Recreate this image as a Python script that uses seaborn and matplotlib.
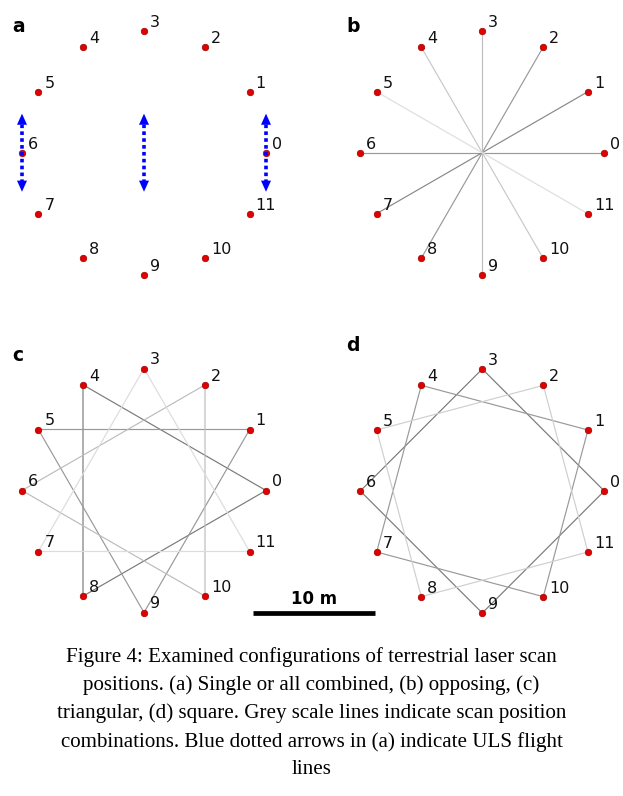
import numpy as np
import pandas as pd
import matplotlib
matplotlib.use("Agg")
import matplotlib.pyplot as plt
import seaborn as sns

# scan positions on the ring (index, angle in degrees, ccw from east)
scan_ids = [0, 1, 2, 3, 4, 5, 6, 7, 8, 9, 10, 11]
scan_angle_deg = [0, 30, 60, 90, 120, 150, 180, 210, 240, 270, 300, 330]
ring_radius_m = 10.0

# (b) opposing combinations
opposing_pairs = [(0, 6), (1, 7), (2, 8), (3, 9), (4, 10), (5, 11)]
opposing_grey = ["#9a9a9a", "#888888", "#999999", "#bdbdbd", "#c8c8c8", "#dedede"]

# (c) triangular combinations
triangles = [(0, 4, 8), (1, 5, 9), (2, 6, 10), (3, 7, 11)]
triangle_grey = ["#7a7a7a", "#999999", "#bcbcbc", "#dcdcdc"]

# (d) square combinations
squares = [(0, 3, 6, 9), (1, 4, 7, 10), (2, 5, 8, 11)]
square_grey = ["#7a7a7a", "#999999", "#cfcfcf"]

# (a) ULS flight lines
flight_line_x_m = [-10, 0, 10]
flight_line_half_len_m = 3.2

scale_bar_m = 10

caption_lines = [
    "Figure 4: Examined configurations of terrestrial laser scan",
    "positions. (a) Single or all combined, (b) opposing, (c)",
    "triangular, (d) square. Grey scale lines indicate scan position",
    "combinations. Blue dotted arrows in (a) indicate ULS flight",
    "lines",
]

sns.set_style("white")
plt.rcParams["font.family"] = ["DejaVu Sans"]
plt.rcParams["text.color"] = "black"

W, H = 623, 796
px_per_m = 12.2
half_px = 150
fig = plt.figure(figsize=(W / 100, H / 100), dpi=100)

# panel centres in pixels
centres = {"a": (144, 152.7), "b": (482.2, 152.7), "c": (144, 490.5), "d": (482.3, 491)}
letter_pos = {"a": (19, 27), "b": (353, 27), "c": (18, 355), "d": (352.7, 345)}

ang = np.deg2rad(scan_angle_deg)
pts = pd.DataFrame({"id": scan_ids,
                    "x": ring_radius_m * np.cos(ang),
                    "y": ring_radius_m * np.sin(ang)})

lim = half_px / px_per_m
axes = {}
for key, (cx, cy) in centres.items():
    ax = fig.add_axes([(cx - half_px) / W, (H - cy - half_px) / H, 2 * half_px / W, 2 * half_px / H])
    ax.set_xlim(-lim, lim)
    ax.set_ylim(-lim, lim)
    ax.set_axis_off()
    axes[key] = ax
    lx, ly = letter_pos[key]
    fig.text(lx / W, 1 - ly / H, key, ha="center", va="center", fontsize=13.5,
             fontweight="bold", color="black")


def connect(ax, idx, color, closed=False):
    seq = list(idx) + ([idx[0]] if closed else [])
    ax.plot(pts.x.iloc[seq], pts.y.iloc[seq], color=color, lw=0.85, zorder=1, solid_capstyle="butt")


# (a) flight line arrows
ax = axes["a"]
for fx in flight_line_x_m:
    h = flight_line_half_len_m
    ax.plot([fx, fx], [-h + 0.7, h - 0.7], color="#0000ff", lw=2.6, ls=(0, (1, 0.9)), zorder=3)
    for tip in (h, -h):
        ax.annotate("", xy=(fx, tip), xytext=(fx, tip * 0.7),
                    arrowprops=dict(arrowstyle="-|>,head_length=0.8,head_width=0.36",
                                    color="#0000ff", lw=0, shrinkA=0, shrinkB=0), zorder=4)

# (b) opposing
for pair, g in zip(opposing_pairs, opposing_grey):
    connect(axes["b"], pair, g)

# (c) triangular
for tri, g in zip(triangles, triangle_grey):
    connect(axes["c"], tri, g, closed=True)

# (d) square
for sq, g in zip(squares, square_grey):
    connect(axes["d"], sq, g, closed=True)

# scan positions and labels
for key, ax in axes.items():
    sns.scatterplot(data=pts, x="x", y="y", ax=ax, s=22, color="#e00000",
                    edgecolor="#a00000", linewidth=0.5, zorder=2 if key == "a" else 5, legend=False)
    ax.set_xlabel("")
    ax.set_ylabel("")
    for _, r in pts.iterrows():
        ax.annotate(str(int(r.id)), (r.x, r.y), xytext=(4.3, 2.9), textcoords="offset points",
                    ha="left", va="baseline", fontsize=11.5, color="#111111", zorder=6)

# scale bar under panels c/d
ax = axes["c"]
bx0 = (252.7 - centres["c"][0]) / px_per_m
by = -(613 - centres["c"][1]) / px_per_m
ax.plot([bx0, bx0 + scale_bar_m], [by, by], color="black", lw=3.4, solid_capstyle="butt", clip_on=False)
ax.annotate(f"{scale_bar_m} m", (bx0 + scale_bar_m / 2, by), xytext=(0, 3.5), textcoords="offset points",
            ha="center", va="bottom", fontsize=12, fontweight="bold", color="black",
            annotation_clip=False)

# caption
caption_y = [656.7, 685, 713.3, 741.7, 769]
for line, y in zip(caption_lines, caption_y):
    fig.text(311.5 / W, 1 - y / H, line, ha="center", va="center",
             fontsize=15.1, family="Liberation Serif", color="black")

fig.savefig("out.png", dpi=100)
